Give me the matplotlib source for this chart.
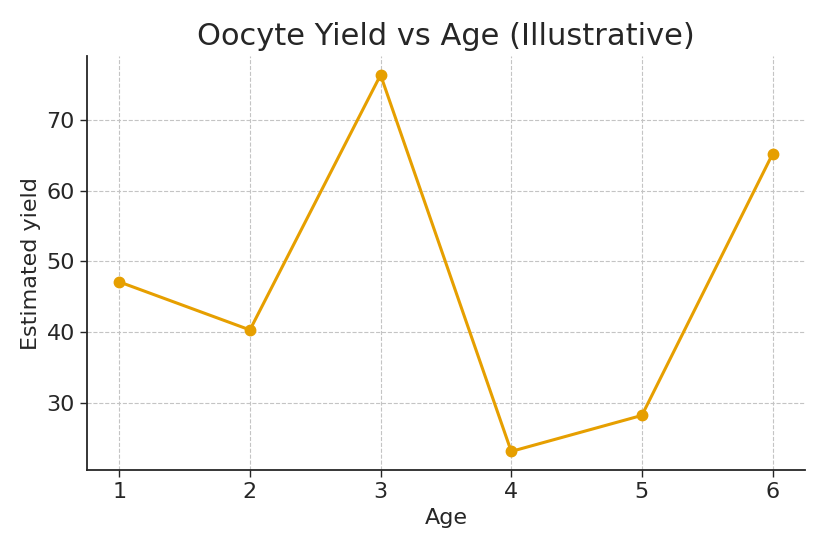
import matplotlib
matplotlib.use("Agg")
import matplotlib.pyplot as plt

ages = [1, 2, 3, 4, 5, 6]
yields = [47.1, 40.3, 76.4, 23.1, 28.2, 65.2]

plt.rcParams['font.family'] = ['DejaVu Sans']
plt.rcParams['text.color'] = '#262626'
plt.rcParams['axes.labelcolor'] = '#262626'
plt.rcParams['xtick.color'] = '#262626'
plt.rcParams['ytick.color'] = '#262626'

fig, ax = plt.subplots(figsize=(8.25, 5.5), dpi=100)
ax.plot(ages, yields, color='#E69F00', marker='o', linewidth=2.2, markersize=7.5)

ax.set_title("Oocyte Yield vs Age (Illustrative)", fontsize=22, pad=8)
ax.set_xlabel("Age", fontsize=16)
ax.set_ylabel("Estimated yield", fontsize=16)
ax.tick_params(labelsize=16, length=5, width=1)
ax.grid(True, linestyle='--', color='#c4c4c4', linewidth=0.8)
ax.spines['top'].set_visible(False)
ax.spines['right'].set_visible(False)
for s in ('left', 'bottom'):
    ax.spines[s].set_linewidth(1.3)
    ax.spines[s].set_color('#262626')

fig.subplots_adjust(left=0.105, right=0.976, top=0.898, bottom=0.145)
fig.savefig("out.png", dpi=100)
